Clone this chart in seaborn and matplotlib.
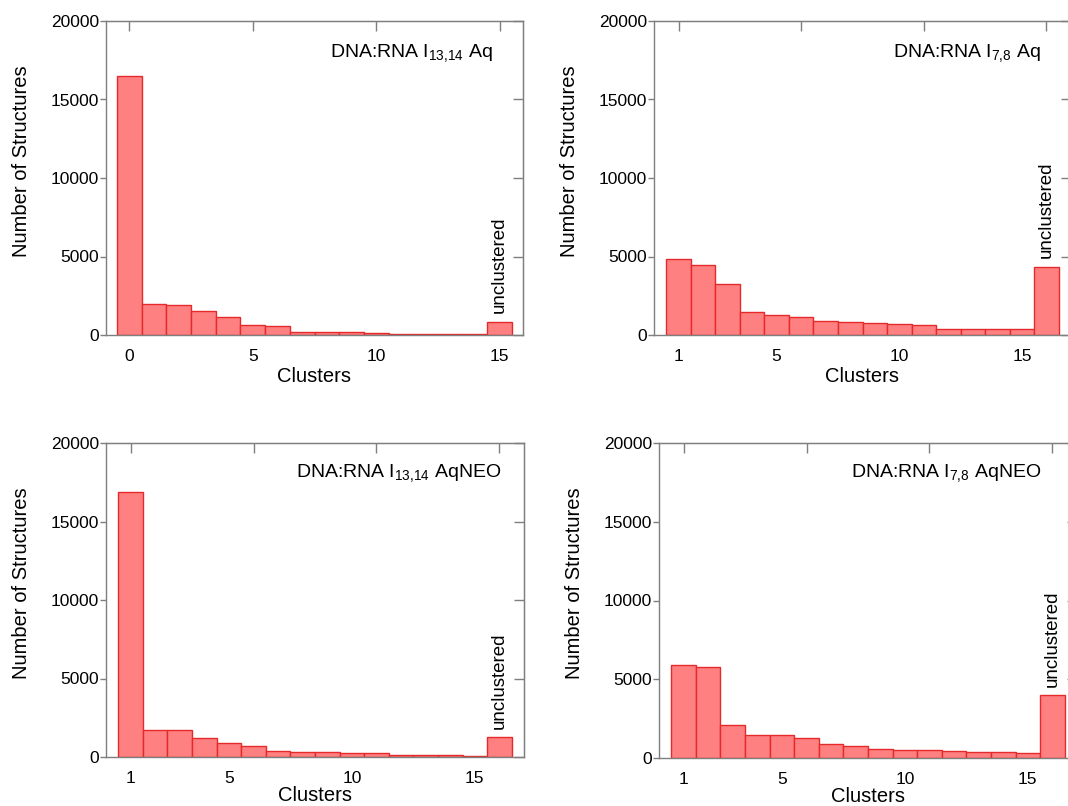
import numpy as np
import matplotlib
matplotlib.use("Agg")
import matplotlib.pyplot as plt
import seaborn as sns

# ---------------- data ----------------
clusters_13_14_aq = list(range(0, 16))
counts_13_14_aq = [16500, 2000, 1900, 1550, 1150, 650, 550, 200, 200, 170, 130, 85, 85, 85, 85, 850]

clusters_7_8_aq = list(range(1, 17))
counts_7_8_aq = [4850, 4450, 3250, 1470, 1300, 1150, 870, 830, 760, 700, 620, 380, 380, 380, 380, 4350]

clusters_13_14_neo = list(range(1, 17))
counts_13_14_neo = [16850, 1750, 1700, 1200, 900, 700, 360, 300, 300, 255, 255, 150, 150, 150, 85, 1270]

clusters_7_8_neo = list(range(1, 17))
counts_7_8_neo = [5900, 5750, 2100, 1450, 1450, 1250, 900, 760, 550, 500, 500, 460, 360, 360, 320, 4000]

titles = ["DNA:RNA I$_{13{,}14}$ Aq", "DNA:RNA I$_{7{,}8}$ Aq",
          "DNA:RNA I$_{13{,}14}$ AqNEO", "DNA:RNA I$_{7{,}8}$ AqNEO"]
xtick_labels_0 = [0, 5, 10, 15]
xtick_labels_1 = [1, 5, 10, 15]
top_ticks_0 = [0, 5, 10, 15]
top_ticks_1 = [1, 6, 11, 16]
yticks = [0, 5000, 10000, 15000, 20000]
unclustered_label = "unclustered"

# ---------------- style ----------------
sns.set_style("white")
plt.rcParams["font.family"] = ["Liberation Sans", "DejaVu Sans"]
plt.rcParams["mathtext.default"] = "regular"
plt.rcParams["mathtext.fontset"] = "custom"
plt.rcParams["mathtext.rm"] = "Liberation Sans"
plt.rcParams["text.color"] = "black"
plt.rcParams["axes.labelcolor"] = "black"
plt.rcParams["xtick.color"] = "black"
plt.rcParams["ytick.color"] = "black"

FACE = "#FF8080"
EDGE = "#E42A2A"
SPINE = "#7f7f7f"

fig = plt.figure(figsize=(10.68, 8.06), dpi=100)
W, H = 1068, 806

def frac(left, top, right, bottom):
    return [left / W, (H - bottom) / H, (right - left) / W, (bottom - top) / H]

rects = [frac(106, 21, 523, 335), frac(654, 21, 1071, 335),
         frac(106, 443, 524, 757), frac(659, 443, 1077, 758)]

panels = [
    (clusters_13_14_aq, counts_13_14_aq, xtick_labels_0, top_ticks_0, (-0.95, 15.95), (0.928, 0.898)),
    (clusters_7_8_aq, counts_7_8_aq, xtick_labels_1, top_ticks_1, (0.0, 17.0), (0.928, 0.898)),
    (clusters_13_14_neo, counts_13_14_neo, xtick_labels_1, top_ticks_1, (0.0, 17.0), (0.947, 0.904)),
    (clusters_7_8_neo, counts_7_8_neo, xtick_labels_1, top_ticks_1, (0.0, 17.0), (0.914, 0.904)),
]
xlabel_pads = [2, 2, 0.3, 0.3]

for i, (rect, (xs, ys, xt, tt, xlim, tpos)) in enumerate(zip(rects, panels)):
    ax = fig.add_axes(rect)
    sns.barplot(x=xs, y=ys, native_scale=True, width=1.0, orient="x",
                color=FACE, saturation=1, edgecolor=EDGE, linewidth=1.0,
                errorbar=None, ax=ax)
    ax.set_xlim(*xlim)
    ax.set_ylim(0, 20000)
    ax.set_yticks(yticks)
    ax.set_yticklabels([str(v) for v in yticks])
    ax.set_xticks(xt)
    ax.set_xticklabels([str(v) for v in xt])
    ax.tick_params(axis="y", direction="out", length=4, width=1, color=SPINE,
                   pad=1, labelsize=12.5, left=True, labelcolor="black")
    ax.tick_params(axis="x", direction="in", length=0, pad=10, labelsize=12.5,
                   bottom=True, labelcolor="black")
    for s in ax.spines.values():
        s.set_visible(True)
        s.set_color(SPINE)
        s.set_linewidth(1.0)
    ax.set_xlabel("Clusters", fontsize=14.5, labelpad=xlabel_pads[i], color="black")
    ax.set_ylabel("Number of Structures", fontsize=14.5, labelpad=14, color="black")
    ax.yaxis.label.set_y(0.555)

    sec_top = ax.secondary_xaxis("top")
    sec_top.set_xticks(tt)
    sec_top.tick_params(direction="in", length=7, width=1, color=SPINE, labeltop=False)
    sec_top.spines["top"].set_color(SPINE)
    sec_right = ax.secondary_yaxis("right")
    sec_right.set_yticks(yticks)
    sec_right.tick_params(direction="in", length=7, width=1, color=SPINE, labelright=False)
    sec_right.spines["right"].set_color(SPINE)

    ax.text(tpos[0], tpos[1], titles[i], transform=ax.transAxes, ha="right",
            va="center", fontsize=14, color="black")
    ax.annotate(unclustered_label, xy=(xs[-1], ys[-1]), xytext=(0, 6),
                textcoords="offset points", rotation=90, ha="center", va="bottom",
                fontsize=13.5, color="black")

fig.savefig("out.png", dpi=100)
